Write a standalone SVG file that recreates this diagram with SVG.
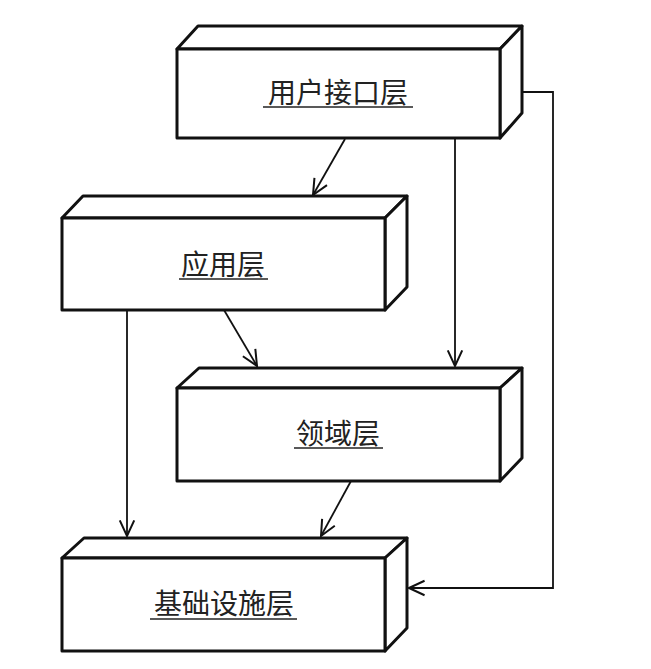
<svg xmlns="http://www.w3.org/2000/svg" width="651" height="669" viewBox="0 0 651 669">
<style>
.face{fill:#fff;stroke:#111;stroke-width:3;stroke-linejoin:round}
.lbl{font-family:"Noto Sans CJK SC","Noto Sans",sans-serif;font-size:28px;fill:#222;text-anchor:middle;dominant-baseline:central}
.ul{stroke:#222;stroke-width:1.6}
.con{fill:none;stroke:#111;stroke-width:1.8}
</style>
<defs>
<marker id="arr" markerUnits="userSpaceOnUse" markerWidth="20" markerHeight="20" viewBox="-16 -8 18 16" refX="0" refY="0" orient="auto">
<path d="M-14,-6.5 L0,0 L-14,6.5" fill="none" stroke="#111" stroke-width="1.8"/>
</marker>
</defs>
<rect width="651" height="669" fill="#fff"/>
<g id="connectors">
<line class="con" x1="345" y1="139" x2="313" y2="195" marker-end="url(#arr)"/>
<line class="con" x1="455" y1="139" x2="455" y2="366" marker-end="url(#arr)"/>
<line class="con" x1="127" y1="310" x2="127" y2="536" marker-end="url(#arr)"/>
<line class="con" x1="224" y1="310" x2="257" y2="366" marker-end="url(#arr)"/>
<line class="con" x1="351" y1="481" x2="321" y2="536" marker-end="url(#arr)"/>
<polyline class="con" points="500,92 553,92 553,588 409,588" marker-end="url(#arr)"/>
</g>
<g id="user-interface">
<path class="face" d="M177,49 L198,26 L522,26 L500,49 Z"/>
<path class="face" d="M500,49 L522,26 L522,113 L500,138 Z"/>
<rect class="face" x="177" y="49" width="323" height="89"/>
<text class="lbl" x="338" y="91">用户接口层</text>
<line class="ul" x1="263" y1="107" x2="413" y2="107"/>
</g>
<g id="application">
<path class="face" d="M62,218 L83,196 L407,196 L385,218 Z"/>
<path class="face" d="M385,218 L407,196 L407,287 L385,310 Z"/>
<rect class="face" x="62" y="218" width="323" height="92"/>
<text class="lbl" x="223" y="263">应用层</text>
<line class="ul" x1="179" y1="279" x2="268" y2="279"/>
</g>
<g id="domain">
<path class="face" d="M177,388 L199,368 L522,368 L500,388 Z"/>
<path class="face" d="M500,388 L522,368 L522,458 L500,481 Z"/>
<rect class="face" x="177" y="388" width="323" height="93"/>
<text class="lbl" x="338" y="432">领域层</text>
<line class="ul" x1="294" y1="448" x2="383" y2="448"/>
</g>
<g id="infrastructure">
<path class="face" d="M62,558 L84,538 L407,538 L385,558 Z"/>
<path class="face" d="M385,558 L407,538 L407,628 L385,651 Z"/>
<rect class="face" x="62" y="558" width="323" height="93"/>
<text class="lbl" x="224" y="602">基础设施层</text>
<line class="ul" x1="150" y1="619" x2="297" y2="619"/>
</g>
</svg>
